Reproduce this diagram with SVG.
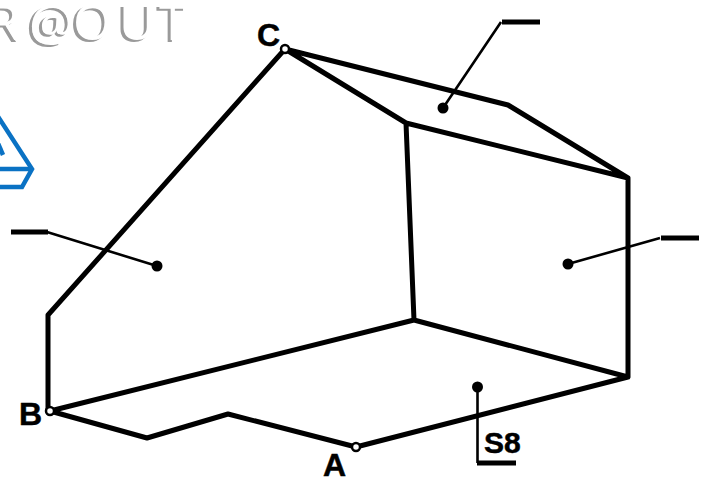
<svg xmlns="http://www.w3.org/2000/svg" width="709" height="479" viewBox="0 0 709 479">
<defs>
<filter id="emboss" x="-5%" y="-20%" width="110%" height="140%">
<feOffset in="SourceGraphic" dx="3" dy="-2.500" result="s"/>
<feComposite in="SourceGraphic" in2="s" operator="out"/>
</filter>
</defs>
<style>
.e{fill:none;stroke:#000;stroke-width:5;stroke-linejoin:round;stroke-linecap:round}
.l{fill:none;stroke:#000;stroke-width:2.6}
.b{fill:none;stroke:#000;stroke-width:5}
.t{font-family:"Liberation Sans",Arial,sans-serif;font-weight:bold;font-size:32px;fill:#000;stroke:#000;stroke-width:.5}
.o{fill:#fff;stroke:#000;stroke-width:2.500}
.w{font-family:"Open Sans","Liberation Sans",sans-serif;font-size:50px;fill:#9a9a9a}
</style>
<rect width="709" height="479" fill="#fff"/>
<g id="watermark" filter="url(#emboss)">
<text class="w" x="-14 26 70 116 156" y="42">R@OUT</text>
</g>
<g id="logo" fill="none" stroke="#0a72c4" stroke-width="4.500">
<path d="M-3 115L32 169L22 187H-3"/>
<path d="M-3 169H32"/>
<path d="M-3 141L3 155"/>
</g>
<g id="connectors">
<path class="e" d="M48 411V315L285 49L508 105L628 178V377L356 447L228 414L147 438L50 411L414 320L628 377M414 320L406 123L285 49M406 123L628 178"/>
<path class="l" d="M157 266L47 232M443 108L501 22M568 264L660 238M477.500 387V463"/>
<path class="b" d="M11 232H48M502 22H540M661 238H699M477 463H516"/>
</g>
<g id="face-left"><circle cx="157" cy="266" r="5.500"/></g>
<g id="face-top"><circle cx="443" cy="108" r="5.500"/></g>
<g id="face-right"><circle cx="568" cy="264" r="5.500"/></g>
<g id="face-bottom"><circle cx="477.500" cy="387" r="5.500"/><text class="t" x="484" y="453" style="font-size:30px">S8</text></g>
<g id="point-a"><circle class="o" cx="356" cy="447" r="4"/><text class="t" x="323" y="475.500">A</text></g>
<g id="point-b"><circle class="o" cx="50" cy="411" r="4"/><text class="t" x="19" y="425">B</text></g>
<g id="point-c"><circle class="o" cx="285" cy="49" r="4"/><text class="t" x="257" y="46">C</text></g>
</svg>
